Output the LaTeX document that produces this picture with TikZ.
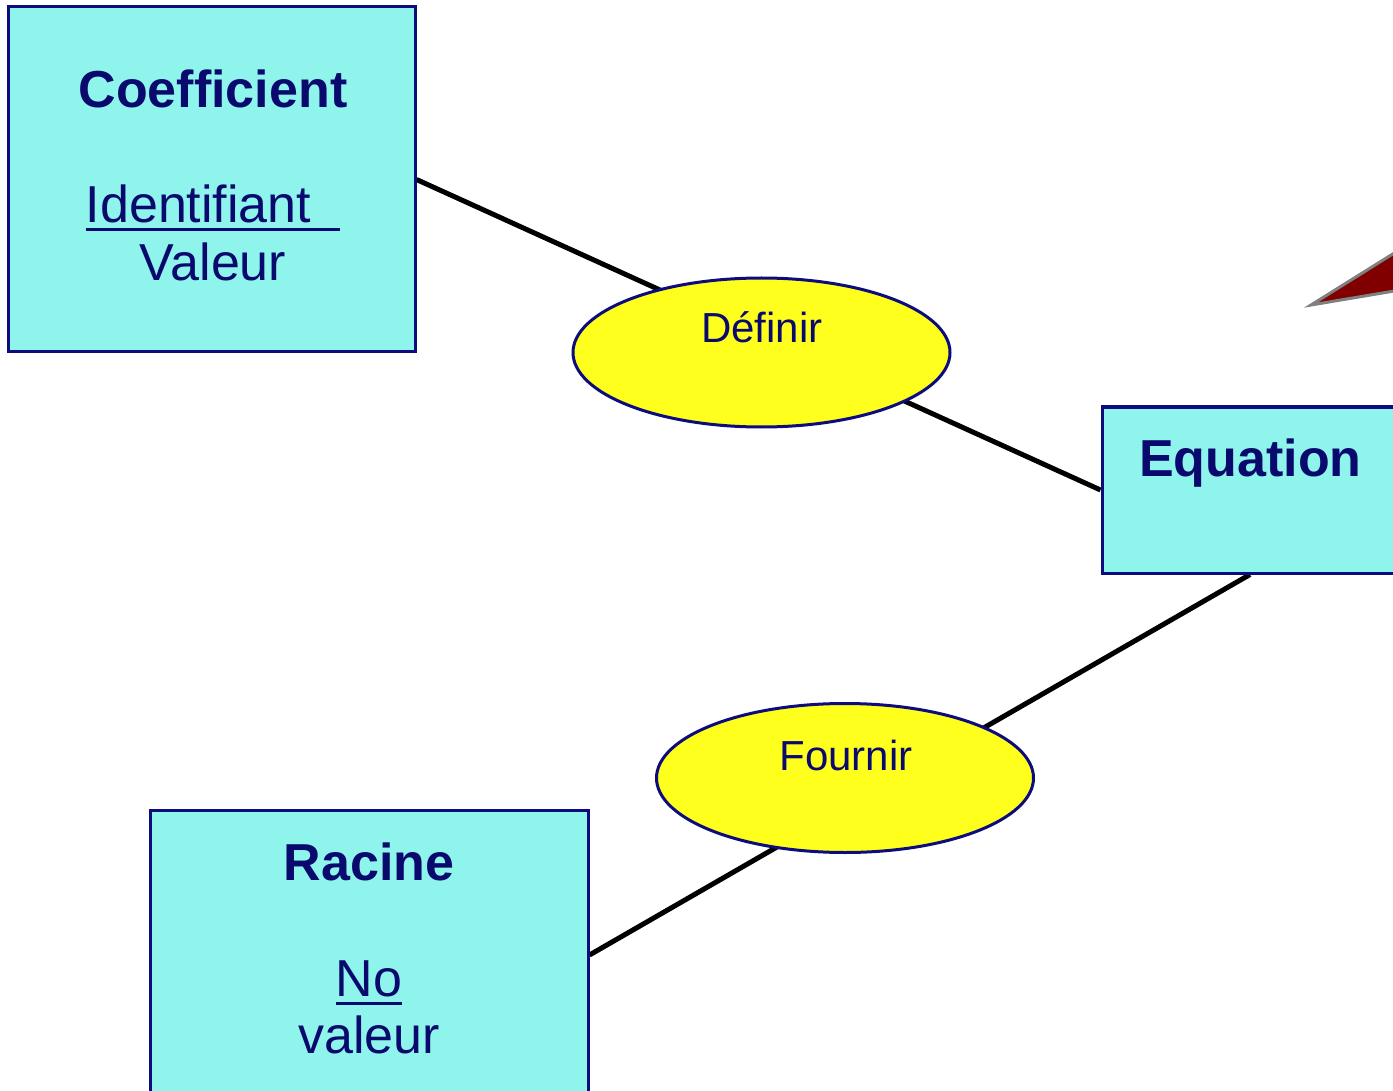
\documentclass[tikz,border=0pt]{standalone}
\usepackage{fontspec}
\setmainfont{Liberation Sans}
\usetikzlibrary{shapes.geometric,backgrounds}
\definecolor{navytxt}{RGB}{10,10,110}
\definecolor{navyline}{RGB}{12,12,125}
\definecolor{boxfill}{RGB}{143,244,236}
\definecolor{relfill}{RGB}{255,255,30}
\definecolor{darkred}{RGB}{128,0,0}
\tikzset{
  entity/.style={draw=navyline, fill=boxfill, line width=3pt, inner sep=0pt},
  rel/.style={ellipse, draw=navyline, fill=relfill, line width=3pt, inner sep=0pt, minimum width=377pt, minimum height=149pt},
  title/.style={font=\fontsize{52}{58}\selectfont\bfseries, text=navytxt, inner sep=0pt, anchor=base},
  attr/.style={font=\fontsize{52}{58}\selectfont, text=navytxt, inner sep=0pt, anchor=base},
  rlbl/.style={font=\fontsize{42}{48}\selectfont, text=navytxt, inner sep=0pt, anchor=base},
  ul/.style={draw=navytxt, line width=3pt},
  link/.style={draw=black, line width=5pt}
}
\begin{document}
\begin{tikzpicture}[x=1pt,y=-1pt]
\useasboundingbox (0,0) rectangle (1393,1091);
\clip (0,0) rectangle (1393,1091);
% entities
\node[entity, minimum width=407pt, minimum height=345pt] (coef) at (211.5,179.5) {};
\node[entity, minimum width=296pt, minimum height=166pt] (eq) at (1250,490) {};
\node[entity, minimum width=438pt, minimum height=290pt] (rac) at (369,955) {};
% relations
\node[rel] (def) at (761.5,352.5) {};
\node[rel] (fou) at (845,778) {};
% links
\begin{pgfonlayer}{background}
\draw[link] (coef.east) -- (eq.west);
\draw[link] (eq.south) -- (rac.east);
\end{pgfonlayer}
% texts
\node[title] (coeft) at (213,108) {Coefficient};
\node[attr] (idt) at (213,223) {Identifiant\rule{29pt}{0pt}};
\draw[ul] ([yshift=-7pt]idt.base west) -- ([yshift=-7pt]idt.base east);
\node[attr] (valt) at (213,281) {Valeur};
\node[title] (eqt) at (1250.5,476) {Equation};
\node[title] (ract) at (369,880) {Racine};
\node[attr] (not) at (369,996) {No};
\draw[ul] ([yshift=-7pt]not.base west) -- ([yshift=-7pt]not.base east);
\node[attr] (valt2) at (369,1053) {valeur};
\node[rlbl] (deft) at (762,343) {Définir};
\node[rlbl] (fout) at (846,770) {Fournir};
% red pointer
\draw[draw=gray, fill=darkred, line width=3pt, line join=miter] (1311,305) -- (1460,212) -- (1460,280) -- cycle;
\end{tikzpicture}
\end{document}
